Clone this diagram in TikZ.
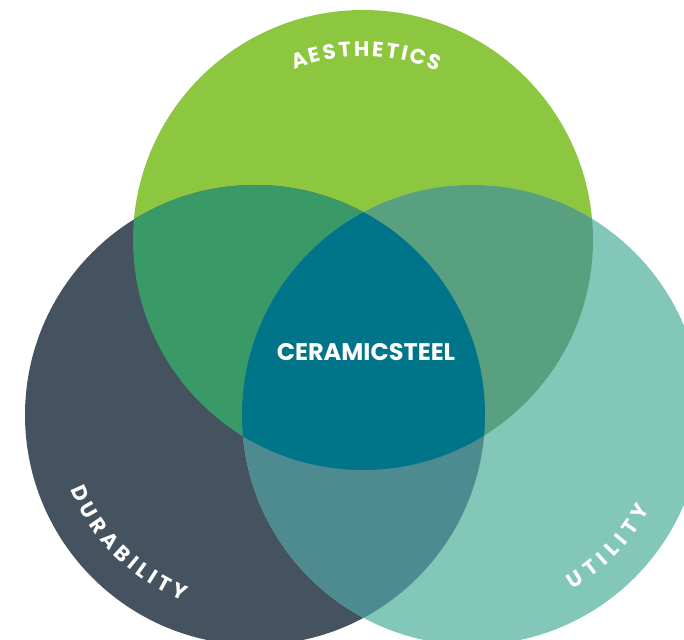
\documentclass[tikz,border=0pt]{standalone}
\usepackage{fontspec}
\setmainfont{Poppins}
\usetikzlibrary{decorations.text,calc}

\definecolor{aesgreen}{HTML}{8DC63F}
\definecolor{durslate}{HTML}{44535F}
\definecolor{utilteal}{HTML}{83C7B8}
\definecolor{aesdur}{HTML}{399A68}
\definecolor{aesutil}{HTML}{58A080}
\definecolor{durutil}{HTML}{4D8B90}
\definecolor{coreteal}{HTML}{007488}

\newcommand{\arcfont}{\bfseries\fontsize{21}{21}\selectfont}

\begin{document}
\begin{tikzpicture}[x=1pt,y=1pt,
	arclabel/.style={decorate, decoration={text along path, text color=white, text align={fit to path}}}]

	\useasboundingbox (0,0) rectangle (684,639);
	\clip (0,0) rectangle (684,639);

	\coordinate (aes) at (363,399);
	\coordinate (dur) at (255,224);
	\coordinate (util) at (472,224);

	% the three circles
	\fill[aesgreen] (aes) circle (230);
	\fill[durslate] (dur) circle (230);
	\fill[utilteal] (util) circle (230);

	% overlaps
	\begin{scope}
		\clip (aes) circle (230);
		\fill[aesdur] (dur) circle (230);
		\fill[aesutil] (util) circle (230);
	\end{scope}
	\begin{scope}
		\clip (dur) circle (230);
		\fill[durutil] (util) circle (230);
	\end{scope}
	\begin{scope}
		\clip (aes) circle (230);
		\clip (dur) circle (230);
		\fill[coreteal] (util) circle (230);
	\end{scope}

	\node[text=white, font=\bfseries\fontsize{24}{24}\selectfont] (core) at (366,287) {CERAMICSTEEL};

	% curved labels
	\path[arclabel, decoration={text={|\arcfont|AESTHETICS}}]
		($(aes)+(112:184)$) arc (112:66:184);
	\path[arclabel, decoration={text={|\arcfont|DURABILITY}}]
		($(dur)+(202:199)$) arc (202:249:199);
	\path[arclabel, decoration={text={|\arcfont|UTILITY}}]
		($(util)+(300:201)$) arc (300:332:201);

\end{tikzpicture}
\end{document}
